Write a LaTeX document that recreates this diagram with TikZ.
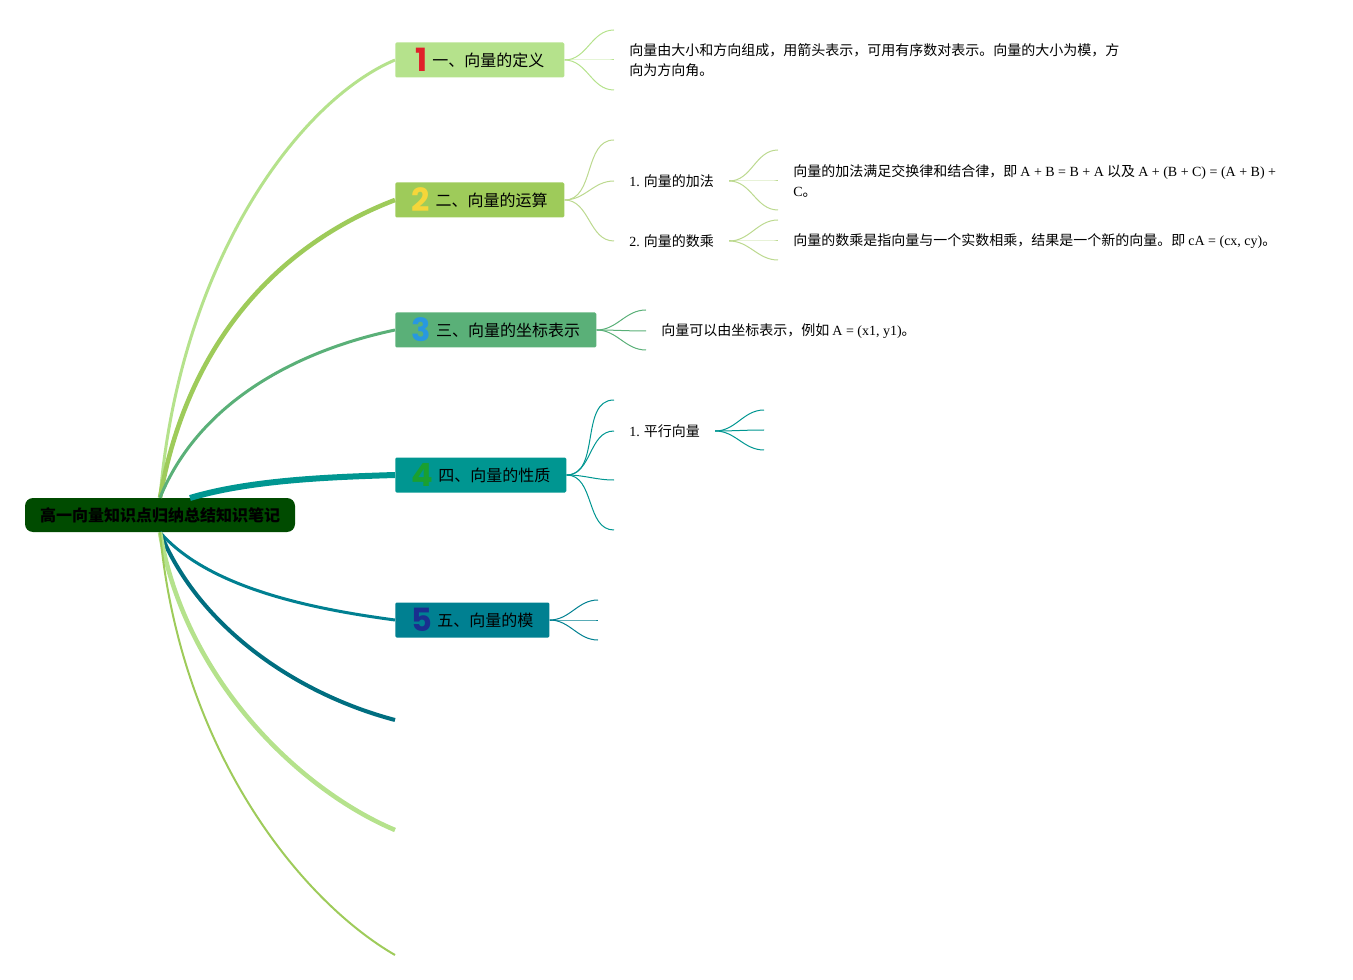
\documentclass[tikz,border=0pt]{standalone}
\usepackage{fontspec}
\setmainfont{Liberation Serif}
\newfontfamily\cjk{Noto Sans CJK SC}
\newfontfamily\numfont{Poppins}
\definecolor{rootgreen}{HTML}{004B00}
\definecolor{limeA}{HTML}{B5E28C}
\definecolor{limeB}{HTML}{9ECB5A}
\definecolor{limeC}{HTML}{BCD98F}
\definecolor{sea}{HTML}{5AB078}
\definecolor{tealA}{HTML}{009691}
\definecolor{tealB}{HTML}{008091}
\definecolor{tealC}{HTML}{006E80}
\definecolor{numred}{HTML}{E0202A}
\definecolor{numyellow}{HTML}{F5D63A}
\definecolor{numblue}{HTML}{2898E0}
\definecolor{numgreen}{HTML}{1AA030}
\definecolor{numnavy}{HTML}{1A2F8F}
\tikzstyle{root}=[rounded corners=6pt, fill=rootgreen, minimum width=202.5pt, minimum height=25.5pt, inner sep=0pt, font=\cjk\bfseries\fontsize{12}{14}\selectfont]
\tikzstyle{topic}=[anchor=west, minimum height=26.25pt, inner xsep=12pt, inner ysep=0pt, rounded corners=1pt, font=\cjk\fontsize{12}{14}\selectfont]
\tikzstyle{leaf}=[anchor=west, align=left, inner xsep=11.25pt, inner ysep=0pt, font=\cjk\fontsize{10.5}{15}\selectfont]
\newcommand{\topic}{\node[topic]}
\newcommand{\leaf}{\node[leaf]}
\newcommand{\badge}[2]{\raisebox{-4pt}{\color{#1}\numfont\bfseries\fontsize{24}{24}\selectfont #2}\hspace{4pt}}

\begin{document}
\begin{tikzpicture}[x=0.75pt, y=-0.75pt
    ,every edge/.style={draw, out=0, in=180, line width=0.75pt}
]
\useasboundingbox (0,0) rectangle (1353,980);
\node[root] (root) at (160,515) {高一向量知识点归纳总结知识笔记};
\topic[fill=limeA, minimum width=126.75pt] (b1) at (395,60) {\badge{numred}{1}一、向量的定义};
\topic[fill=limeB, minimum width=126.75pt] (b2) at (395,200) {\badge{numyellow}{2}二、向量的运算};
\topic[fill=sea, minimum width=150.75pt] (b3) at (395,330) {\badge{numblue}{3}三、向量的坐标表示};
\topic[fill=tealA, minimum width=126.75pt] (b4) at (395,475) {\badge{numgreen}{4}四、向量的性质};
\topic[fill=tealB, minimum width=114.75pt] (b5) at (395,620) {\badge{numnavy}{5}五、向量的模};
\coordinate (hub) at (190,498);
\coordinate (e6) at (395,720);
\coordinate (e7) at (395,830);
\coordinate (e8) at (395,955);

\draw[limeA, line width=2.25pt] (root.north) .. controls (180,260) and (300,100) .. (b1.west);
\draw[limeB, line width=3.4pt] (root.north) .. controls (190,330) and (290,240) .. (b2.west);
\draw[sea, line width=2.25pt] (root.north) .. controls (200,400) and (300,350) .. (b3.west);
\draw[tealA, line width=4.5pt] (hub) .. controls (250,480) and (330,477) .. (b4.west);
\draw[tealB, line width=2.25pt] (root.south) .. controls (210,590) and (320,610) .. (b5.west);
\draw[tealC, line width=3pt] (root.south) .. controls (200,630) and (300,695) .. (e6);
\draw[limeA, line width=3.4pt] (root.south) .. controls (185,680) and (300,790) .. (e7);
\draw[limeB, line width=1.5pt] (root.south) .. controls (180,750) and (300,900) .. (e8);

\leaf (def) at (614,60) {向量由大小和方向组成，用箭头表示，可用有序数对表示。向量的大小为模，方\\向为方向角。};
\leaf (add) at (614,181) {{\rmfamily 1.} 向量的加法};
\leaf (addtext) at (778,181) {向量的加法满足交换律和结合律，即 {\rmfamily A + B = B + A} 以及 {\rmfamily A + (B + C) = (A + B) +}\\{\rmfamily C}。};
\leaf (mul) at (614,241) {{\rmfamily 2.} 向量的数乘};
\leaf (multext) at (778,241) {向量的数乘是指向量与一个实数相乘，结果是一个新的向量。即 {\rmfamily cA = (cx, cy)}。};
\leaf (coord) at (646,331) {向量可以由坐标表示，例如 {\rmfamily A = (x1, y1)}。};
\leaf (par) at (614,431) {{\rmfamily 1.} 平行向量};

\coordinate (f1a) at (614,30);
\coordinate (f1b) at (614,90);
\coordinate (f2a) at (614,140);
\coordinate (fa1) at (778,150);
\coordinate (fa2) at (778,210);
\coordinate (fm1) at (778,220);
\coordinate (fm2) at (778,260);
\coordinate (f3a) at (646,310);
\coordinate (f3b) at (646,350);
\coordinate (f4a) at (614,400);
\coordinate (f4b) at (614,480);
\coordinate (f4c) at (614,530);
\coordinate (fp1) at (764,410);
\coordinate (fp2) at (764,430);
\coordinate (fp3) at (764,450);
\coordinate (f5a) at (598,600);
\coordinate (f5b) at (598,620);
\coordinate (f5c) at (598,640);

\path[color=limeA]
(b1.east) edge (f1a) edge (def.west) edge (f1b)
;
\path[color=limeC]
(b2.east) edge (f2a) edge (add.west) edge (mul.west)
(add.east) edge (fa1) edge (addtext.west) edge (fa2)
(mul.east) edge (fm1) edge (multext.west) edge (fm2)
;
\path[color=sea]
(b3.east) edge (f3a) edge (coord.west) edge (f3b)
;
\path[color=tealA]
(b4.east) edge (f4a) edge (par.west) edge (f4b) edge (f4c)
(par.east) edge (fp1) edge (fp2) edge (fp3)
;
\path[color=tealB]
(b5.east) edge (f5a) edge (f5b) edge (f5c)
;
\end{tikzpicture}
\end{document}
